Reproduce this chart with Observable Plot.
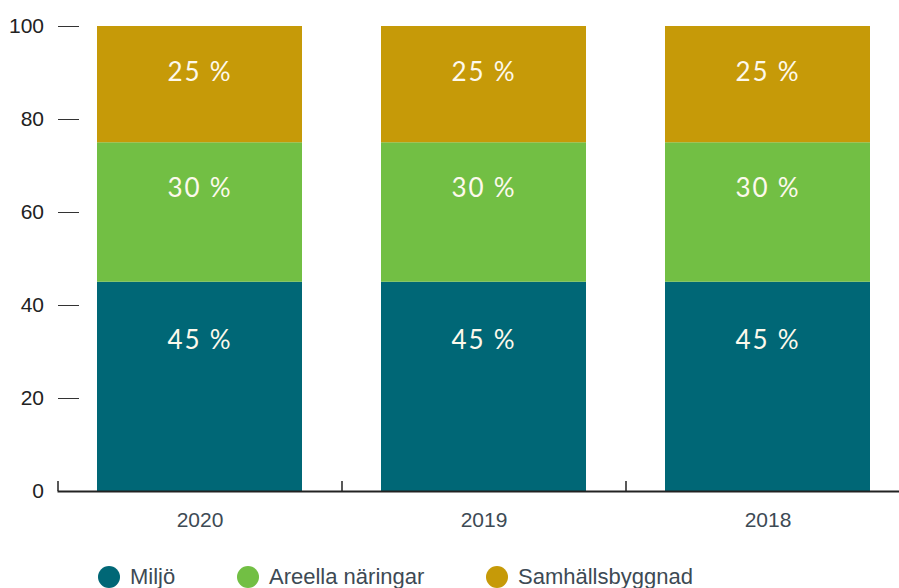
<!DOCTYPE html>
<html>
<head>
<meta charset="utf-8">
<script src="https://cdn.jsdelivr.net/npm/d3@7"></script>
<script src="https://cdn.jsdelivr.net/npm/@observablehq/plot@0.6"></script>
<style>
  body { margin: 0; background: #fff; }
  #chart { position: relative; width: 899px; }
  #chart svg g[aria-label="text"] text { letter-spacing: 1.8px; }
  .legend { height: 38px; font-family: "Liberation Sans", Arial, sans-serif; font-size: 22px; color: #3d4a54; position: relative; }
  .item { position: absolute; display: flex; align-items: center; top: 16px; height: 22px; }
  .dot { width: 22px; height: 22px; border-radius: 50%; margin-right: 10px; flex: none; }
</style>
</head>
<body>
<div id="chart"></div>
<script>
const years = ["2020", "2019", "2018"];
const series = ["Miljö", "Areella näringar", "Samhällsbyggnad"];
const miljo = [45, 45, 45];
const areella = [30, 30, 30];
const samhalls = [25, 25, 25];
const yTicks = [0, 20, 40, 60, 80, 100];
const colors = ["#006776", "#72bf44", "#c69a08"];

const values = [miljo, areella, samhalls];
const rows = [];
years.forEach((year, i) => {
  let cum = 0;
  series.forEach((s, j) => {
    cum += values[j][i];
    rows.push({year, series: s, value: values[j][i], top: cum});
  });
});

const W = 899, H = 550, mL = 57.5, mR = -10.5, mT = 26, mB = 59;
const pInner = 0.278, pOuter = 0.139;
const step = (W - mL - mR) / (years.length - pInner + 2 * pOuter);
const plotH = H - mT - mB;

const labelFont = {fontFamily: "Lato, 'Noto Sans', sans-serif", fontSize: 26, fill: "#fdf9ec"};

const plot = Plot.plot({
  width: W, height: H,
  marginLeft: mL, marginRight: mR, marginTop: mT, marginBottom: mB,
  style: {fontFamily: "'Liberation Sans', Arial, sans-serif", fontSize: "21px", background: "transparent"},
  x: {domain: years, paddingInner: pInner, paddingOuter: pOuter, label: null},
  y: {domain: [0, 100], label: null},
  color: {domain: series, range: colors},
  marks: [
    Plot.barY(rows, {x: "year", y: "value", fill: "series"}),
    Plot.text(rows.filter(d => d.series !== "Miljö"), {x: "year", y: "top", text: d => d.value + " %", dy: 46, ...labelFont}),
    Plot.text(rows.filter(d => d.series === "Miljö"), {x: "year", y: "top", text: d => d.value + " %", dy: 58, ...labelFont}),
    Plot.axisY(yTicks, {tickSize: 0, tickPadding: 14, fill: "#222", fontSize: 21}),
    Plot.ruleY(yTicks.filter(d => d > 0), {stroke: "#333", strokeWidth: 1, insetLeft: 0.5, insetRight: (W - mL - mR) - 21.5}),
    Plot.axisX({tickSize: 0, tickPadding: 21, fill: "#3d4a54", fontSize: 21}),
    Plot.ruleY([0], {stroke: "#222", strokeWidth: 2}),
    Plot.ruleX(years, {x: d => d, dx: -step / 2, stroke: "#222", strokeWidth: 1.5, insetTop: plotH - 10})
  ]
});
document.getElementById("chart").appendChild(plot);

const legend = document.createElement("div");
legend.className = "legend";
const lefts = [98, 237, 486];
series.forEach((s, i) => {
  const it = document.createElement("div");
  it.className = "item";
  it.style.left = lefts[i] + "px";
  const dot = document.createElement("span");
  dot.className = "dot";
  dot.style.background = colors[i];
  const t = document.createElement("span");
  t.textContent = s;
  it.appendChild(dot); it.appendChild(t);
  legend.appendChild(it);
});
document.getElementById("chart").appendChild(legend);
</script>
</body>
</html>
